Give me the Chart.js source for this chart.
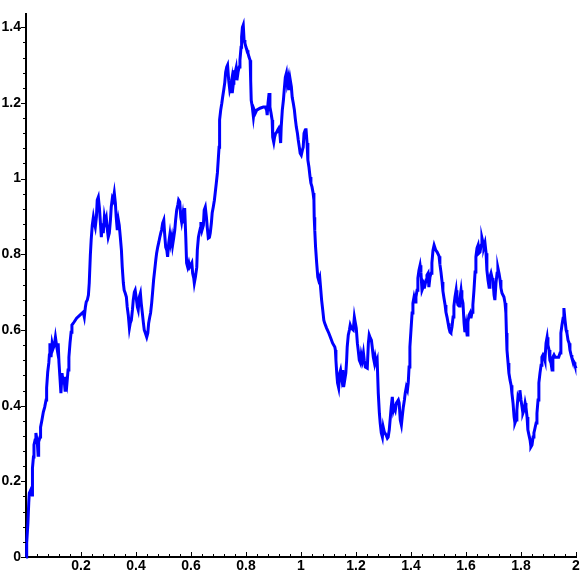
<!DOCTYPE html>
<html>
<head>
<meta charset="utf-8">
<script src="https://cdn.jsdelivr.net/npm/chart.js@4/dist/chart.umd.min.js"></script>
<style>
  html, body { margin: 0; padding: 0; background: #fff; }
  #wrap { width: 584px; height: 584px; }
</style>
</head>
<body>
<div id="wrap"><canvas id="c" width="584" height="584"></canvas></div>
<script>
// time values (x) of the path
const pathTimes = [
  0, 0.0025, 0.007, 0.010, 0.012, 0.017, 0.022, 0.023, 0.024, 0.027,
  0.029, 0.033, 0.036, 0.041, 0.044, 0.046, 0.051, 0.053, 0.058, 0.063,
  0.068, 0.073, 0.075, 0.079, 0.083, 0.085, 0.087, 0.091, 0.095, 0.099,
  0.103, 0.107, 0.112, 0.115, 0.117, 0.120, 0.124, 0.127, 0.131, 0.135,
  0.138, 0.142, 0.145, 0.149, 0.153, 0.156, 0.160, 0.164, 0.167, 0.175,
  0.184, 0.196, 0.208, 0.212, 0.216, 0.219, 0.223, 0.227, 0.230, 0.234,
  0.237, 0.241, 0.245, 0.248, 0.252, 0.256, 0.259, 0.263, 0.267, 0.270,
  0.274, 0.277, 0.281, 0.285, 0.288, 0.292, 0.296, 0.299, 0.303, 0.307,
  0.310, 0.314, 0.317, 0.321, 0.325, 0.328, 0.332, 0.336, 0.339, 0.343,
  0.347, 0.350, 0.354, 0.357, 0.361, 0.365, 0.368, 0.372, 0.376, 0.379,
  0.383, 0.387, 0.390, 0.394, 0.397, 0.401, 0.405, 0.408, 0.412, 0.416,
  0.419, 0.423, 0.427, 0.430, 0.434, 0.439, 0.443, 0.446, 0.450, 0.453,
  0.457, 0.461, 0.464, 0.468, 0.472, 0.475, 0.479, 0.483, 0.486, 0.490,
  0.493, 0.497, 0.501, 0.504, 0.508, 0.512, 0.515, 0.519, 0.523, 0.526,
  0.530, 0.533, 0.537, 0.541, 0.544, 0.548, 0.552, 0.555, 0.559, 0.563,
  0.566, 0.570, 0.573, 0.577, 0.581, 0.584, 0.588, 0.592, 0.595, 0.599,
  0.603, 0.606, 0.610, 0.612, 0.616, 0.621, 0.623, 0.627, 0.630, 0.634,
  0.636, 0.640, 0.645, 0.648, 0.652, 0.656, 0.659, 0.663, 0.667, 0.670,
  0.674, 0.677, 0.681, 0.685, 0.688, 0.692, 0.696, 0.699, 0.702, 0.704,
  0.708, 0.712, 0.715, 0.719, 0.723, 0.726, 0.730, 0.733, 0.737, 0.741,
  0.744, 0.748, 0.750, 0.754, 0.756, 0.760, 0.764, 0.767, 0.771, 0.775,
  0.778, 0.782, 0.784, 0.787, 0.790, 0.793, 0.796, 0.800, 0.804, 0.807,
  0.811, 0.815, 0.817, 0.819, 0.823, 0.827, 0.830, 0.834, 0.839, 0.851,
  0.863, 0.870, 0.875, 0.877, 0.880, 0.884, 0.887, 0.891, 0.895, 0.897,
  0.901, 0.904, 0.908, 0.912, 0.915, 0.919, 0.923, 0.926, 0.928, 0.932,
  0.936, 0.939, 0.943, 0.947, 0.950, 0.954, 0.957, 0.961, 0.965, 0.968,
  0.972, 0.976, 0.979, 0.983, 0.987, 0.990, 0.994, 0.997, 1.001, 1.005,
  1.008, 1.011, 1.015, 1.018, 1.022, 1.025, 1.029, 1.033, 1.036, 1.040,
  1.044, 1.047, 1.048, 1.050, 1.053, 1.057, 1.061, 1.064, 1.068, 1.072,
  1.075, 1.079, 1.083, 1.086, 1.093, 1.101, 1.108, 1.115, 1.123, 1.125,
  1.127, 1.130, 1.133, 1.137, 1.141, 1.144, 1.148, 1.152, 1.155, 1.159,
  1.163, 1.166, 1.168, 1.172, 1.176, 1.179, 1.183, 1.190, 1.194, 1.197,
  1.201, 1.205, 1.208, 1.212, 1.216, 1.219, 1.223, 1.227, 1.230, 1.234,
  1.241, 1.245, 1.248, 1.252, 1.256, 1.259, 1.263, 1.267, 1.270, 1.274,
  1.277, 1.281, 1.285, 1.288, 1.292, 1.296, 1.299, 1.303, 1.310, 1.314,
  1.317, 1.321, 1.325, 1.328, 1.332, 1.336, 1.339, 1.343, 1.347, 1.354,
  1.357, 1.361, 1.365, 1.368, 1.372, 1.376, 1.379, 1.383, 1.387, 1.390,
  1.393, 1.396, 1.400, 1.404, 1.407, 1.411, 1.415, 1.418, 1.422, 1.425,
  1.429, 1.433, 1.436, 1.440, 1.444, 1.447, 1.451, 1.455, 1.458, 1.462,
  1.465, 1.469, 1.473, 1.476, 1.480, 1.484, 1.490, 1.495, 1.502, 1.505,
  1.509, 1.513, 1.516, 1.520, 1.524, 1.527, 1.531, 1.535, 1.538, 1.542,
  1.545, 1.549, 1.553, 1.556, 1.560, 1.564, 1.567, 1.571, 1.575, 1.578,
  1.582, 1.585, 1.589, 1.593, 1.596, 1.600, 1.604, 1.607, 1.611, 1.615,
  1.618, 1.622, 1.625, 1.629, 1.633, 1.636, 1.640, 1.644, 1.647, 1.651,
  1.655, 1.658, 1.662, 1.665, 1.669, 1.673, 1.676, 1.680, 1.684, 1.687,
  1.691, 1.695, 1.698, 1.702, 1.705, 1.709, 1.713, 1.716, 1.720, 1.724,
  1.727, 1.731, 1.738, 1.742, 1.745, 1.747, 1.749, 1.753, 1.756, 1.760,
  1.764, 1.767, 1.771, 1.775, 1.778, 1.782, 1.785, 1.789, 1.793, 1.796,
  1.800, 1.804, 1.807, 1.811, 1.815, 1.818, 1.822, 1.825, 1.829, 1.833,
  1.836, 1.840, 1.844, 1.847, 1.851, 1.855, 1.858, 1.862, 1.865, 1.869,
  1.873, 1.876, 1.880, 1.884, 1.887, 1.891, 1.895, 1.898, 1.902, 1.905,
  1.909, 1.913, 1.916, 1.920, 1.924, 1.930, 1.937, 1.942, 1.945, 1.949,
  1.953, 1.956, 1.960, 1.964, 1.967, 1.971, 1.975, 1.978, 1.982, 1.985,
  1.989, 1.993, 1.996, 2.0
];

// path values (y)
const pathValues = [
  0, 0.037, 0.090, 0.143, 0.169, 0.177, 0.164, 0.203, 0.235, 0.264,
  0.296, 0.309, 0.328, 0.304, 0.269, 0.304, 0.317, 0.343, 0.362, 0.383,
  0.396, 0.415, 0.447, 0.489, 0.513, 0.534, 0.565, 0.528, 0.565, 0.552,
  0.560, 0.581, 0.555, 0.542, 0.565, 0.513, 0.468, 0.433, 0.486, 0.460,
  0.476, 0.441, 0.476, 0.460, 0.494, 0.528, 0.565, 0.594, 0.613, 0.621,
  0.631, 0.639, 0.647, 0.634, 0.661, 0.674, 0.679, 0.692, 0.724, 0.798,
  0.838, 0.877, 0.898, 0.885, 0.872, 0.898, 0.943, 0.951, 0.922, 0.890,
  0.845, 0.882, 0.856, 0.898, 0.885, 0.896, 0.864, 0.845, 0.856, 0.890,
  0.925, 0.948, 0.943, 0.962, 0.935, 0.898, 0.864, 0.890, 0.877, 0.845,
  0.811, 0.766, 0.724, 0.705, 0.697, 0.687, 0.661, 0.639, 0.605, 0.618,
  0.626, 0.653, 0.679, 0.700, 0.705, 0.684, 0.661, 0.653, 0.687, 0.697,
  0.671, 0.645, 0.618, 0.600, 0.592, 0.581, 0.592, 0.618, 0.634, 0.645,
  0.671, 0.705, 0.732, 0.758, 0.785, 0.803, 0.819, 0.832, 0.843, 0.856,
  0.864, 0.882, 0.890, 0.856, 0.819, 0.811, 0.793, 0.830, 0.851, 0.830,
  0.845, 0.824, 0.843, 0.864, 0.890, 0.917, 0.930, 0.943, 0.938, 0.898,
  0.885, 0.904, 0.882, 0.922, 0.845, 0.777, 0.766, 0.777, 0.766, 0.771,
  0.777, 0.750, 0.737, 0.724, 0.740, 0.766, 0.811, 0.845, 0.856, 0.869,
  0.885, 0.864, 0.877, 0.917, 0.925, 0.898, 0.872, 0.843, 0.845, 0.856,
  0.882, 0.909, 0.925, 0.943, 0.962, 0.988, 1.015, 1.049, 1.083, 1.155,
  1.181, 1.199, 1.215, 1.234, 1.255, 1.281, 1.295, 1.300, 1.260, 1.234,
  1.242, 1.260, 1.226, 1.252, 1.281, 1.279, 1.292, 1.260, 1.281, 1.295,
  1.313, 1.347, 1.374, 1.400, 1.406, 1.366, 1.358, 1.347, 1.339, 1.332,
  1.321, 1.313, 1.260, 1.207, 1.189, 1.163, 1.181, 1.173, 1.181, 1.186,
  1.189, 1.189, 1.181, 1.168, 1.199, 1.226, 1.189, 1.173, 1.155, 1.110,
  1.096, 1.110, 1.120, 1.123, 1.128, 1.133, 1.120, 1.094, 1.136, 1.181,
  1.207, 1.234, 1.268, 1.279, 1.252, 1.266, 1.234, 1.260, 1.242, 1.215,
  1.199, 1.181, 1.160, 1.136, 1.120, 1.102, 1.083, 1.067, 1.062, 1.075,
  1.083, 1.120, 1.128, 1.133, 1.094, 1.049, 1.030, 1.004, 0.988, 0.978,
  0.962, 0.943, 0.898, 0.864, 0.819, 0.777, 0.740, 0.732, 0.740, 0.705,
  0.679, 0.653, 0.626, 0.618, 0.605, 0.592, 0.579, 0.565, 0.555, 0.547,
  0.520, 0.486, 0.460, 0.447, 0.486, 0.494, 0.473, 0.494, 0.449, 0.468,
  0.486, 0.520, 0.555, 0.587, 0.600, 0.613, 0.605, 0.600, 0.634, 0.621,
  0.605, 0.565, 0.547, 0.520, 0.513, 0.534, 0.520, 0.539, 0.520, 0.502,
  0.499, 0.565, 0.587, 0.579, 0.573, 0.555, 0.528, 0.513, 0.528, 0.513,
  0.520, 0.433, 0.380, 0.354, 0.328, 0.317, 0.343, 0.330, 0.322, 0.314,
  0.317, 0.336, 0.370, 0.396, 0.423, 0.388, 0.396, 0.388, 0.407, 0.415,
  0.407, 0.362, 0.349, 0.370, 0.396, 0.415, 0.433, 0.449, 0.441, 0.460,
  0.502, 0.555, 0.600, 0.645, 0.671, 0.687, 0.674, 0.687, 0.705, 0.737,
  0.758, 0.771, 0.753, 0.705, 0.713, 0.724, 0.719, 0.732, 0.745, 0.750,
  0.713, 0.740, 0.750, 0.777, 0.811, 0.824, 0.811, 0.806, 0.795, 0.774,
  0.753, 0.727, 0.703, 0.684, 0.666, 0.647, 0.634, 0.618, 0.605, 0.594,
  0.592, 0.608, 0.634, 0.663, 0.687, 0.705, 0.679, 0.666, 0.663, 0.684,
  0.705, 0.684, 0.671, 0.618, 0.594, 0.613, 0.587, 0.621, 0.639, 0.645,
  0.631, 0.647, 0.666, 0.705, 0.753, 0.793, 0.816, 0.824, 0.803, 0.806,
  0.824, 0.843, 0.830, 0.819, 0.830, 0.803, 0.758, 0.732, 0.713, 0.740,
  0.750, 0.737, 0.732, 0.692, 0.679, 0.724, 0.750, 0.764, 0.750, 0.732,
  0.711, 0.697, 0.687, 0.671, 0.645, 0.592, 0.547, 0.513, 0.486, 0.468,
  0.454, 0.433, 0.407, 0.370, 0.354, 0.362, 0.388, 0.423, 0.415, 0.441,
  0.415, 0.396, 0.380, 0.388, 0.407, 0.396, 0.370, 0.336, 0.322, 0.309,
  0.291, 0.296, 0.317, 0.328, 0.341, 0.354, 0.380, 0.415, 0.460, 0.486,
  0.507, 0.528, 0.534, 0.528, 0.520, 0.565, 0.581, 0.560, 0.547, 0.520,
  0.513, 0.494, 0.528, 0.534, 0.528, 0.528, 0.528, 0.539, 0.592, 0.613,
  0.631, 0.658, 0.626, 0.600, 0.592, 0.573, 0.565, 0.547, 0.534, 0.526,
  0.520, 0.515, 0.507, 0.499
];

// tick labels
const xTickValues = [0.2, 0.4, 0.6, 0.8, 1, 1.2, 1.4, 1.6, 1.8, 2];
const xTickLabels = ['0.2', '0.4', '0.6', '0.8', '1', '1.2', '1.4', '1.6', '1.8', '2'];
const yTickValues = [0, 0.2, 0.4, 0.6, 0.8, 1, 1.2, 1.4];
const yTickLabels = ['0', '0.2', '0.4', '0.6', '0.8', '1', '1.2', '1.4'];
const minorStep = 0.04;   // minor tick spacing on both axes
const minorPerMajor = 5;

const tickFont = { family: "'Liberation Sans', Arial, sans-serif", weight: 'bold', size: 14 };

const tickMarks = {
  id: 'tickMarks',
  afterDraw(chart) {
    const ctx = chart.ctx;
    const xs = chart.scales.x, ys = chart.scales.y;
    ctx.save();
    ctx.strokeStyle = '#000';
    ctx.lineWidth = 1;
    ctx.beginPath();
    // y axis ticks (outward, to the left)
    const yAxisX = xs.getPixelForValue(0);
    for (let k = 0; k * minorStep <= ys.max + 1e-9; k++) {
      const py = Math.round(ys.getPixelForValue(k * minorStep)) + 0.5;
      const len = (k % minorPerMajor === 0) ? 5 : 3;
      ctx.moveTo(yAxisX - len, py);
      ctx.lineTo(yAxisX, py);
    }
    // x axis ticks (inward, upward)
    const xAxisY = ys.getPixelForValue(0);
    for (let k = 1; k * minorStep <= xs.max + 1e-9; k++) {
      const px = Math.round(xs.getPixelForValue(k * minorStep)) + 0.5;
      const len = (k % minorPerMajor === 0) ? 5 : 3;
      ctx.moveTo(px, xAxisY);
      ctx.lineTo(px, xAxisY - len);
    }
    ctx.stroke();
    ctx.restore();
  }
};

new Chart(document.getElementById('c'), {
  type: 'scatter',
  data: {
    datasets: [{
      data: pathTimes.map((t, i) => ({ x: t, y: pathValues[i] })),
      showLine: true,
      borderColor: '#0000ff',
      borderWidth: 3,
      pointRadius: 0,
      pointHoverRadius: 0,
      tension: 0,
      fill: false,
      clip: false
    }]
  },
  options: {
    responsive: false,
    devicePixelRatio: 1,
    animation: false,
    events: [],
    layout: { padding: { top: 14, right: 8, left: 0, bottom: 0 } },
    plugins: { legend: { display: false }, tooltip: { enabled: false } },
    scales: {
      x: {
        type: 'linear', min: 0, max: 2,
        afterBuildTicks: s => { s.ticks = xTickValues.map(v => ({ value: v })); },
        afterFit: s => { s.height = 27; },
        ticks: {
          callback: v => xTickLabels[xTickValues.indexOf(v)],
          font: tickFont, color: '#000', padding: 1,
          autoSkip: false, maxRotation: 0, includeBounds: false
        },
        grid: { display: false, drawTicks: false },
        border: { display: true, color: '#000', width: 2 }
      },
      y: {
        type: 'linear', min: 0, max: 1.435,
        afterBuildTicks: s => { s.ticks = yTickValues.map(v => ({ value: v })); },
        afterFit: s => { s.width = 26; },
        ticks: {
          callback: v => yTickLabels[yTickValues.indexOf(v)],
          font: tickFont, color: '#000', padding: 5,
          autoSkip: false, includeBounds: false
        },
        grid: { display: false, drawTicks: false },
        border: { display: true, color: '#000', width: 2 }
      }
    }
  },
  plugins: [tickMarks]
});
</script>
</body>
</html>
